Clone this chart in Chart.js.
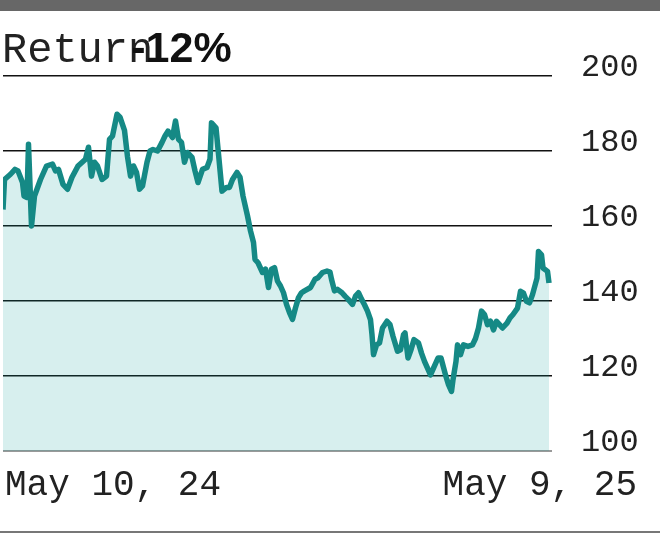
<!DOCTYPE html>
<html>
<head>
<meta charset="utf-8">
<script src="https://cdn.jsdelivr.net/npm/chart.js@4.4.1/dist/chart.umd.min.js"></script>
<style>
  html, body { margin: 0; padding: 0; background: #fff; }
  #wrap { position: relative; width: 660px; height: 533px; overflow: hidden; }
  #chart { position: absolute; left: 0; top: 0; }
  .bar-top { position: absolute; left: 0; top: 0; width: 660px; height: 11px; background: #676767; }
  .bar-bottom { position: absolute; left: 0; top: 531px; width: 660px; height: 2px; background: #777; }
  #title { position: absolute; left: 2px; top: 26px; font: 42px/42px "Liberation Mono", "Courier New", monospace; color: #222; white-space: nowrap; }
  #title b { font: bold 43px/42px "Liberation Sans", Arial, sans-serif; color: #111; margin-left: -22px; }
</style>
</head>
<body>
<div id="wrap">
  <canvas id="chart" width="660" height="533"></canvas>
  <div class="bar-top"></div>
  <div class="bar-bottom"></div>
  <div id="title">Return<b>-12%</b></div>
</div>
<script>
// days since May 10, 2024
const dayOffsets = [
  0, 1, 5, 8, 10, 13, 14, 16, 17, 19,
  21, 25, 29, 33, 35, 37, 40, 43, 46, 50,
  55, 57, 59, 61, 63, 66, 69, 71, 73, 76,
  78, 81, 83, 85, 87, 89, 91, 93, 96, 98,
  100, 103, 106, 108, 110, 113, 115, 117, 119, 121,
  123, 126, 128, 130, 133, 136, 138, 139, 142, 144,
  146, 149, 151, 153, 156, 158, 160, 163, 165, 167,
  168, 170, 173, 175, 177, 179, 181, 183, 185, 187,
  189, 191, 193, 195, 197, 199, 201, 205, 208, 210,
  213, 216, 218, 219, 221, 223, 226, 228, 230, 233,
  235, 237, 239, 241, 243, 245, 246, 247, 249, 251,
  253, 256, 258, 260, 263, 265, 267, 268, 270, 272,
  274, 277, 279, 281, 283, 285, 287, 290, 292, 295,
  297, 299, 300, 302, 303, 305, 307, 310, 313, 315,
  317, 319, 321, 323, 325, 327, 329, 331, 333, 336,
  338, 340, 343, 345, 347, 349, 351, 353, 356, 357,
  359, 360, 363, 364
];

const returnIndex = [
  164.4, 172.4, 173.8, 175.1, 174.7, 171.6, 168, 167.6, 181.8, 160,
  168, 172.4, 176, 176.5, 174.7, 175.1, 171.1, 169.8, 173, 176,
  177.8, 181, 173.3, 177, 176, 172.4, 173.3, 183.1, 184, 189.8,
  189, 185.5, 178.5, 173.3, 176, 174.3, 169.8, 170.7, 177, 180,
  180.4, 180, 182.3, 184, 185.3, 183.6, 188, 183.1, 182.3, 177,
  179.6, 178.3, 174.7, 171.6, 175.1, 175.6, 177.8, 187.5, 186.2, 177.8,
  169.3, 170.3, 170.3, 172.4, 174.3, 173, 168, 162.7, 158.7, 155.6,
  151.1, 150.2, 147.6, 148.5, 143.6, 148.5, 148.9, 145.3, 144, 142.2,
  139.1, 136.9, 135.1, 138.2, 140.9, 142.2, 142.7, 143.6, 145.8, 146.2,
  147.6, 148, 147.7, 145.8, 142.7, 143.1, 142.2, 141.3, 140.5, 139.1,
  141.3, 142.2, 140.5, 139, 137.3, 135, 131, 125.7, 128.3, 128.8,
  132.8, 134.6, 133.7, 130.6, 126.6, 127, 131, 131.5, 124.8, 127,
  129.7, 128.8, 126.1, 123.9, 122.1, 120.3, 122.1, 124.8, 124.8, 120.3,
  117.7, 115.9, 119, 123.9, 128.3, 125.7, 128.3, 127.9, 128.3, 130,
  132.8, 137.3, 136.4, 133.7, 134.6, 132.3, 134.6, 133.7, 132.8, 134.1,
  135.5, 136.4, 138.1, 142.6, 142.1, 139.9, 139.5, 141.7, 146.1, 153.2,
  152.3, 148.8, 147.9, 144.8
];

const yTicks = [100, 120, 140, 160, 180, 200];
const xLabels = ["May 10, 24", "May 9, 25"];

// first and last date under the plot
const dateLabels = {
  id: "dateLabels",
  afterDraw(chart) {
    const ctx = chart.ctx;
    const area = chart.chartArea;
    ctx.save();
    ctx.font = '36px "Liberation Mono", "Courier New", monospace';
    ctx.fillStyle = "#222";
    ctx.textBaseline = "alphabetic";
    ctx.textAlign = "left";
    ctx.fillText(xLabels[0], area.left + 2, area.bottom + 44);
    ctx.textAlign = "right";
    ctx.fillText(xLabels[1], chart.width - 23, area.bottom + 44);
    ctx.restore();
  }
};

const points = dayOffsets.map((d, i) => ({ x: d, y: returnIndex[i] }));

new Chart(document.getElementById("chart").getContext("2d"), {
  type: "line",
  data: {
    datasets: [
      {
        data: points,
        borderColor: "#158985",
        borderWidth: 5.5,
        borderJoinStyle: "round",
        backgroundColor: "rgba(5, 155, 149, 0.16)",
        fill: "start",
        pointRadius: 0,
        tension: 0,
      },
    ],
  },
  options: {
    responsive: false,
    animation: false,
    layout: { padding: { top: 76, bottom: 82, left: 3, right: 20 } },
    plugins: { legend: { display: false }, tooltip: { enabled: false } },
    scales: {
      x: { type: "linear", min: 0, max: 366, display: false },
      y: {
        position: "right",
        min: 100,
        max: 200,
        afterBuildTicks: (axis) => {
          axis.ticks = yTicks.map((v) => ({ value: v }));
        },
        afterFit: (axis) => {
          axis.width = 88;
        },
        border: { display: false },
        grid: {
          drawTicks: false,
          color: (c) => (c.tick && c.tick.value === 100 ? "#999" : "#111"),
          lineWidth: (c) => (c.tick && c.tick.value === 100 ? 2 : 1.6),
        },
        ticks: {
          padding: 29,
          labelOffset: -8,
          color: "#222",
          font: { family: '"Liberation Mono", "Courier New", monospace', size: 32 },
        },
      },
    },
  },
  plugins: [dateLabels],
});
</script>
</body>
</html>
